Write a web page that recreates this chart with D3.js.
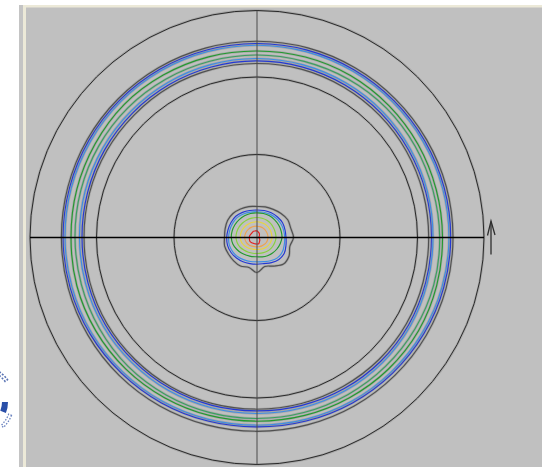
<!DOCTYPE html>
<html>
<head>
<meta charset="utf-8">
<script src="https://cdn.jsdelivr.net/npm/d3@7"></script>
<style>
  html, body { margin: 0; padding: 0; background: #ffffff; }
  svg { display: block; }
</style>
</head>
<body>
<svg id="chart" width="542" height="467"></svg>
<script>
// ---------- DATA (radii, angles clockwise from top) ----------
const angles = [0,15,30,45,60,75,90,105,120,135,150,165,180,195,210,225,240,255,270,285,300,315,330,345];

// reference circles
const gridRadii = [83, 160.5, 227];

// ring contours (inner -> outer)
const ringLevels = ["gray", "blue", "lightblue", "green", "green2", "lightblue", "blue", "gray"];
const ringGrayIn   = [174,174,173.5,173,172.5,172,171.7,172,172.5,172.5,172,171.8,171.7,172,172.3,172.5,173,173,173,173.3,173.5,173.5,174,174];
const ringBlueIn   = [176.6,176.4,176,175.5,175,174.8,174.5,174.6,175,175,174.5,173.8,173.4,173.8,174.2,174.5,175,175,175,175.3,175.8,176,176.3,176.5];
const ringLBlueIn  = [179,178.7,178.3,177.8,177,176.5,176,176.3,177,177.2,176.8,176.3,176,176.3,176.8,177,177.5,177.5,177.5,178,178.3,178.5,178.8,179];
const ringGreenIn  = [182.5,182.3,182.8,183,182.6,182.2,182.7,183,182.5,182,181.5,181.2,181,181.3,181.8,182.3,182,181.8,182,182.4,182.8,183,182.7,182.4];
const ringGreenOut = [186.5,186.8,187,186.5,186,185.5,185.5,186,186.5,186,185,184.2,183.7,184.2,185,185.8,186.3,186.5,186,186.5,187,188,187.5,187];
const ringLBlueOut = [192.3,192.2,192,191.8,191.8,192,192,191.5,190.8,190,189.2,188.3,187.7,188.3,189.2,190,191,191.5,192,192.2,192.3,192.5,192.5,192.4];
const ringBlueOut  = [194,194,193.8,193.6,193.6,193.7,193.7,193.3,192.6,191.8,191,190,189.4,190,191,191.8,192.8,193.5,194,194,194.2,194.3,194.3,194.1];
const ringGrayOut  = [196.3,196.3,196,195.8,195.8,196,196,195.8,195.5,195,194.5,194,193.8,194,194.5,195,195.3,195.5,195.6,195.8,196,196.2,196.3,196.3];

// central peak contours (outer -> inner)
const peakLevels = ["gray", "blue", "lightblue", "green2", "yellowgreen", "yellow", "orange", "red"];
const peakGray   = [31,31.7,32.5,34,35.5,35,36.5,34,37,37.5,33,30,35,31,33,33,33,33.5,32.5,33,34,34,33,32];
const peakBlue   = [27.5,28,28.5,29,29.5,29,29,30,31.5,31,29,27,26.7,27,28,29,30,30.5,30.3,30,30,30,29,28];
const peakLBlue  = [25.8,26.2,26.7,27.2,27.6,27.6,27.7,28.2,29.2,28.8,26.9,25,24.3,24.8,25.8,27.2,28.2,28.7,28.4,28.2,28.2,28.2,27.2,26.3];
const peakGreen  = [24.7,24.8,25,25,25,25,25,24,23,22,21,20,19.3,19.8,20.5,22,23.5,25,25.7,25.7,25.5,25.2,25,24.8];
const peakYGreen = [20,20,19.8,19.5,19.2,19,19,18.5,18,17.5,16.8,16.2,16,16.3,17,18,19.5,20.5,21,21,20.8,20.5,20.3,20];
const peakYellow = [15.7,15.6,15.5,15.3,15.2,15,15,14.5,14,13.3,12.7,12.2,12,12.3,13,14,15.3,16.3,16.7,16.7,16.5,16.2,16,15.8];
const peakOrange = [11.3,11.3,11.2,11.1,11,11,11,10.8,10.5,10,9.7,9.4,9.3,9.5,10,10.8,11.5,12,12.3,12.3,12.1,11.9,11.7,11.5];
const peakRed    = [6.6,5.5,4.6,3.5,2.6,2,1.8,2.2,3,4,4.9,6.5,6.5,6.6,6.8,7.4,8,7.8,7.7,7.5,7,6.8,7.2,6.8];

const levelColors = {
  gray: "#505050", blue: "#2438d4", lightblue: "#3d8ee6", green: "#3aa060",
  green2: "#229a2e", yellowgreen: "#86d23c", yellow: "#e9d63c", orange: "#eea24e", red: "#e41e1e"
};

// ---------- LAYOUT ----------
const svg = d3.select("#chart");
const W = 542, H = 467;
const cx = 257, cy = 237.5;
const rMax = 227;

// frame
svg.append("rect").attr("x", 0).attr("y", 0).attr("width", W).attr("height", H).attr("fill", "#ffffff");
svg.append("rect").attr("x", 19).attr("y", 5).attr("width", W - 19).attr("height", H - 5).attr("fill", "#c4c4c4");
svg.append("rect").attr("x", 23).attr("y", 5).attr("width", W - 23).attr("height", H - 5).attr("fill", "#ece9d8");
svg.append("rect").attr("x", 26).attr("y", 7.5).attr("width", W - 26).attr("height", H - 7.5).attr("fill", "#c0c0c0");

// partially visible emblem at left edge
const logo = svg.append("g").attr("transform", "translate(-22,402)");
logo.append("path")
  .attr("d", d3.arc()({innerRadius: 34, outerRadius: 37, startAngle: Math.PI * 0.08, endAngle: Math.PI * 0.36}))
  .attr("transform", "rotate(-12)")
  .attr("fill", "none").attr("stroke", "#5a74b4").attr("stroke-width", 1.6).attr("stroke-dasharray", "2,1.5");
logo.append("path")
  .attr("d", d3.arc()({innerRadius: 24, outerRadius: 30, startAngle: Math.PI * 0.5, endAngle: Math.PI * 0.62}))
  .attr("fill", "#2a4fa8");
logo.append("path")
  .attr("d", d3.arc()({innerRadius: 33, outerRadius: 36, startAngle: Math.PI * 0.62, endAngle: Math.PI * 0.75}))
  .attr("fill", "none").attr("stroke", "#6a82bf").attr("stroke-width", 1.3).attr("stroke-dasharray", "1.5,1.5");

const g = svg.append("g").attr("transform", `translate(${cx},${cy})`);
const r = d3.scaleLinear().domain([0, rMax]).range([0, rMax]);
const toRad = d3.scaleLinear().domain([0, 360]).range([0, 2 * Math.PI]);

// reference circles
g.selectAll("circle.grid").data(gridRadii).join("circle")
  .attr("class", "grid").attr("r", d => r(d))
  .attr("fill", "none").attr("stroke", "#8a8a8a").attr("stroke-width", 2.4).attr("stroke-opacity", 0.45);
g.selectAll("circle.grid2").data(gridRadii).join("circle")
  .attr("class", "grid2").attr("r", d => r(d))
  .attr("fill", "none").attr("stroke", "#2a2a2a").attr("stroke-width", 1);

// contours
const radial = d3.lineRadial()
  .angle(d => toRad(d.a))
  .radius(d => r(d.r))
  .curve(d3.curveCatmullRomClosed.alpha(0.5));

function contour(values, level, halo) {
  const pts = angles.map((a, i) => ({a, r: values[i]}));
  if (halo) {
    g.append("path").datum(pts).attr("d", radial)
      .attr("fill", "none").attr("stroke", "#8c8c8c").attr("stroke-width", 2.6).attr("stroke-opacity", 0.45);
  }
  g.append("path").datum(pts).attr("d", radial)
    .attr("fill", "none").attr("stroke", levelColors[level]).attr("stroke-width", 1.15);
}

const ringSeries = [ringGrayIn, ringBlueIn, ringLBlueIn, ringGreenIn, ringGreenOut, ringLBlueOut, ringBlueOut, ringGrayOut];
ringSeries.forEach((s, i) => contour(s, ringLevels[i], true));

const peakSeries = [peakGray, peakBlue, peakLBlue, peakGreen, peakYGreen, peakYellow, peakOrange, peakRed];
peakSeries.forEach((s, i) => contour(s, peakLevels[i], i === 0));

// axes
g.append("line").attr("x1", 0).attr("x2", 0).attr("y1", -r(rMax)).attr("y2", r(rMax))
  .attr("stroke", "#4a4a4a").attr("stroke-width", 1);
g.append("line").attr("x1", -r(rMax)).attr("x2", r(rMax)).attr("y1", 0).attr("y2", 0)
  .attr("stroke", "#000000").attr("stroke-width", 1.4);

// direction arrow at the right
const arrow = svg.append("g").attr("stroke", "#2e2e2e").attr("stroke-width", 1.3).attr("fill", "none");
arrow.append("line").attr("x1", cx + r(rMax) + 7).attr("x2", cx + r(rMax) + 7).attr("y1", cy - 16).attr("y2", cy + 17);
arrow.append("path").attr("d", `M${cx + r(rMax) + 3.5},${cy - 2} L${cx + r(rMax) + 7},${cy - 16.5} L${cx + r(rMax) + 11},${cy - 2.5}`);
</script>
</body>
</html>
